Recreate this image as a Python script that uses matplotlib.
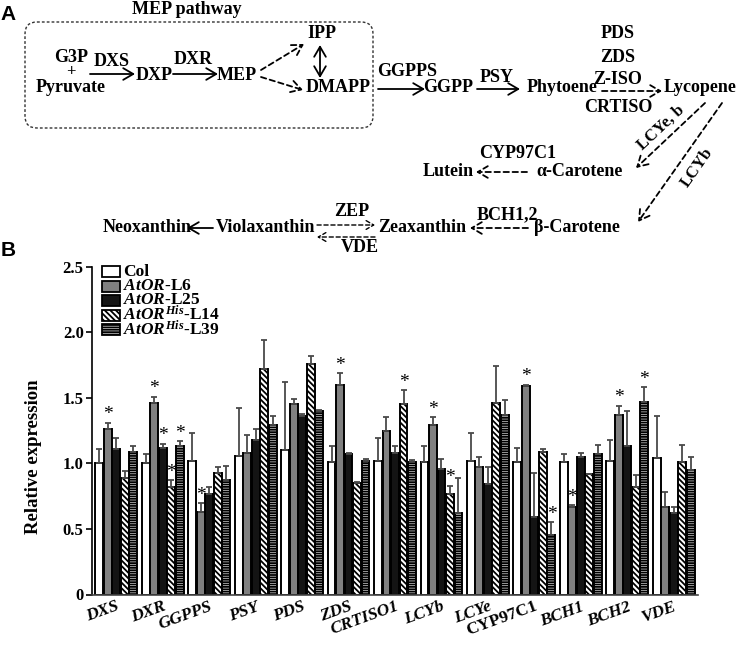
import numpy as np
import matplotlib.pyplot as plt
from matplotlib.patches import FancyBboxPatch, Rectangle
from matplotlib.transforms import offset_copy

plt.rcParams['font.family'] = 'Liberation Serif'
plt.rcParams['font.weight'] = 'bold'
plt.rcParams['axes.labelweight'] = 'bold'
plt.rcParams['mathtext.fontset'] = 'custom'
plt.rcParams['mathtext.rm'] = 'Liberation Serif:bold'
plt.rcParams['mathtext.it'] = 'Liberation Serif:italic:bold'
plt.rcParams['hatch.linewidth'] = 1.3

# --- data (panel B) ---
genes = ['DXS', 'DXR', 'GGPPS', 'PSY', 'PDS', 'ZDS', 'CRTISO1', 'LCYb', 'LCYe',
         'CYP97C1', 'BCH1', 'BCH2', 'VDE']

col = [1.00, 1.00, 1.02, 1.06, 1.10, 1.01, 1.02, 1.01, 1.02, 1.01, 1.01, 1.015, 1.04]
col_err = [0.11, 0.07, 0.21, 0.36, 0.52, 0.12, 0.17, 0.12, 0.21, 0.11, 0.06, 0.165, 0.32]

l6 = [1.26, 1.46, 0.63, 1.08, 1.45, 1.60, 1.25, 1.29, 0.97, 1.59, 0.67, 1.37, 0.67]
l6_err = [0.05, 0.05, 0.065, 0.14, 0.04, 0.09, 0.105, 0.06, 0.08, 0.01, 0.01, 0.07, 0.11]

l25 = [1.11, 1.12, 0.77, 1.18, 1.36, 1.07, 1.08, 0.96, 0.84, 0.59, 1.05, 1.13, 0.62]
l25_err = [0.08, 0.03, 0.05, 0.08, 0.02, 0.006, 0.05, 0.075, 0.13, 0.34, 0.03, 0.27, 0.045]

l14 = [0.89, 0.82, 0.93, 1.72, 1.76, 0.85, 1.45, 0.77, 1.46, 1.09, 0.92, 0.82, 1.01]
l14_err = [0.05, 0.05, 0.04, 0.22, 0.06, 0.007, 0.11, 0.06, 0.28, 0.02, 0.0, 0.09, 0.13]

l39 = [1.09, 1.13, 0.87, 1.29, 1.40, 1.02, 1.01, 0.62, 1.37, 0.45, 1.07, 1.47, 0.95]
l39_err = [0.04, 0.04, 0.11, 0.07, 0.01, 0.01, 0.015, 0.27, 0.11, 0.10, 0.07, 0.11, 0.10]

# genes with a significance star, per line
star_l6 = ['DXS', 'DXR', 'GGPPS', 'ZDS', 'LCYb', 'CYP97C1', 'BCH1', 'BCH2']
star_l25 = ['DXR']
star_l14 = ['DXR', 'CRTISO1', 'LCYb']
star_l39 = ['DXR', 'CYP97C1', 'BCH2']

series_labels = ['Col', r'$\mathit{AtOR}$-L6', r'$\mathit{AtOR}$-L25',
                 r'$\mathit{AtOR}^{\mathit{His}}$-L14', r'$\mathit{AtOR}^{\mathit{His}}$-L39']

fig = plt.figure(figsize=(7.4, 6.45), dpi=100)

# --- panel A: pathway, drawn in pixel coordinates ---
H = 262
axA = fig.add_axes([0, 1 - H / 645, 1, H / 645])
axA.set_xlim(0, 740)
axA.set_ylim(H, 0)
axA.axis('off')


def lab(x, y, s, size=13, **kw):
    axA.text(x, y, s, ha='center', va='center', fontsize=size, fontweight='bold', **kw)


def arr(x0, y0, x1, y1, dashed=False, style='->', lw=1.3, ms=12):
    axA.annotate('', xy=(x1, y1), xytext=(x0, y0),
                 arrowprops=dict(arrowstyle=style + ',head_length=0.6,head_width=0.35',
                                 lw=lw, color='k', linestyle=(0, (3, 2)) if dashed else '-',
                                 shrinkA=0, shrinkB=0, mutation_scale=ms))


axA.text(8, 15, 'A', ha='center', va='center', fontsize=15, fontweight='bold', family='Liberation Sans')
lab(187, 10, 'MEP pathway')
axA.add_patch(FancyBboxPatch((25, 22), 348, 106, boxstyle='round,pad=0,rounding_size=12',
                             fill=False, lw=1.0, ls=(0, (2, 1.5)), ec='#333'))
lab(71, 57, 'G3P')
lab(71, 72, '+', size=12)
lab(71, 88, 'Pyruvate')
lab(112, 61, 'DXS')
arr(90, 74, 135, 74)
lab(154, 75, 'DXP')
lab(193, 59, 'DXR')
arr(173, 74, 218, 74)
lab(237, 75, 'MEP')
lab(322, 33, 'IPP')
lab(338, 88, 'DMAPP')
arr(261, 70, 304, 44, dashed=True)
arr(261, 77, 303, 90, dashed=True)
arr(320, 45, 320, 78, style='<->')
lab(407, 72, 'GGPPS')
arr(378, 89, 425, 89)
lab(448, 88, 'GGPP')
lab(497, 78, 'PSY')
arr(477, 89, 520, 89)
lab(562, 88, 'Phytoene')
lab(618, 33, 'PDS')
lab(618, 58, 'ZDS')
lab(618, 80, 'Z-ISO')
lab(618, 107, 'CRTISO')
arr(602, 91, 662, 91, dashed=True)
lab(700, 88, 'Lycopene')

arr(705, 103, 636, 168, dashed=True)
lab(661, 128, 'LCYe, b', size=12, rotation=43)
arr(722, 103, 638, 222, dashed=True)
lab(697, 168, 'LCYb', size=12, rotation=55)

lab(518, 153, 'CYP97C1')
lab(448, 172, 'Lutein')
arr(527, 172, 476, 172, dashed=True)
lab(580, 172, 'α-Carotene')

lab(352, 211, 'ZEP')
lab(507, 215, 'BCH1,2')
lab(147, 228, 'Neoxanthin')
arr(213, 228, 187, 228)
lab(266, 228, 'Violaxanthin')
arr(317, 225, 375, 225, dashed=True, lw=1.0, ms=9)
arr(375, 237, 317, 237, dashed=True, lw=1.0, ms=9)
lab(422, 228, 'Zeaxanthin')
arr(528, 228, 470, 228, dashed=True)
lab(577, 228, 'β-Carotene')
lab(360, 247, 'VDE')
axA.text(8, 250, 'B', ha='center', va='center', fontsize=15, fontweight='bold', family='Liberation Sans')

# --- panel B: bar chart ---
ax = fig.add_axes([92 / 740, 1 - 594.5 / 645, 606 / 740, (594.5 - 266.7) / 645])

x = np.arange(len(genes))
step = 0.183
width = 0.17
vals = [col, l6, l25, l14, l39]
errs = [col_err, l6_err, l25_err, l14_err, l39_err]
stars = [[], star_l6, star_l25, star_l14, star_l39]
faces = ['white', '#808080', '#141414', 'white', 'white']
hatches = [None, None, None, '\\\\\\\\\\\\', '-------']

for k in range(5):
    pos = x + (k - 2) * step
    v = np.array(vals[k])
    e = np.array(errs[k])
    ax.bar(pos, v, width, color=faces[k], edgecolor='black', linewidth=1.4,
           hatch=hatches[k], zorder=2)
    ax.errorbar(pos, v, yerr=[np.zeros_like(e), e], fmt='none', ecolor='#4a4a4a',
                elinewidth=1.3, capsize=2, capthick=1.3, zorder=3)
    for g in stars[k]:
        i = genes.index(g)
        ax.text(pos[i], v[i] + e[i] + 0.06, '*', ha='center', va='center',
                fontsize=14, fontweight='normal')

ax.set_xlim(-0.52, 12.52)
ax.set_ylim(0, 2.5)
ax.set_yticks([0, 0.5, 1.0, 1.5, 2.0, 2.5])
ax.set_yticklabels(['0', '0.5', '1.0', '1.5', '2.0', '2.5'], fontsize=12, fontweight='bold')
ax.set_xticks(x)
tl = ax.set_xticklabels(genes, rotation=20, ha='right', va='top', rotation_mode='anchor',
                        fontsize=12.5, style='italic', fontweight='bold')
for t in tl:
    t.set_transform(offset_copy(t.get_transform(), fig=fig, x=12, y=-2, units='dots'))
    if t.get_text() == 'CYP97C1':
        t.set_style('normal')
ax.tick_params(axis='x', length=0, pad=3)
ax.tick_params(axis='y', direction='out', length=4, width=1.2, pad=2)
ax.spines['top'].set_visible(False)
ax.spines['right'].set_visible(False)
ax.spines['left'].set_linewidth(1.2)
ax.spines['bottom'].set_linewidth(1.2)
ax.spines['bottom'].set_color('#444')
ax.set_ylabel('Relative expression', fontsize=13.5, fontweight='bold')
ax.yaxis.set_label_coords(-0.082, 0.42)

# legend, top left inside the axes
aw, ah = 606.0, 327.8
rows = [271.5, 286, 300.5, 315, 329.5]
for k in range(5):
    fy = (594.5 - rows[k]) / ah
    ax.add_patch(Rectangle((10 / aw, fy - 5.5 / ah), 18 / aw, 11 / ah, transform=ax.transAxes,
                           facecolor=faces[k], edgecolor='black', lw=1.3, hatch=hatches[k],
                           clip_on=False))
    ax.text(31 / aw, fy, series_labels[k], transform=ax.transAxes, ha='left', va='center',
            fontsize=12.5)

fig.savefig('out.png', dpi=100)
